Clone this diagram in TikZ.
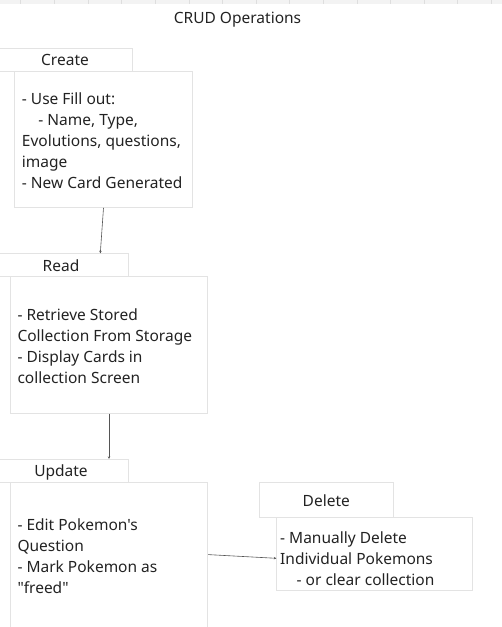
\documentclass[tikz,border=0pt]{standalone}
\usepackage{fontspec}
\setmainfont{Noto Sans}[Ligatures=TeXOff]
\usetikzlibrary{arrows.meta}
\definecolor{boxline}{HTML}{E3E3E3}
\definecolor{txt}{HTML}{222222}
\definecolor{conn}{HTML}{555555}
\definecolor{strip}{HTML}{F3F3F3}
\definecolor{tick}{HTML}{DEDEDE}
\tikzset{
  hdr/.style={draw=boxline, line width=0.8pt, inner sep=0pt, text=txt,
    font=\fontsize{15.5}{21}\selectfont, text height=12pt, text depth=0pt},
  bodybox/.style={draw=boxline, line width=0.8pt, inner sep=0pt},
  bodytext/.style={anchor=base west, inner sep=0pt, align=left, text=txt,
    font=\fontsize{15.5}{21}\selectfont},
  conline/.style={draw=conn, line width=0.6pt, -{Stealth[length=2.5pt,width=2.5pt]}}
}
\begin{document}
\begin{tikzpicture}[x=1pt,y=-1pt]
\useasboundingbox (0,0) rectangle (502,627);
\clip (0,0) rectangle (502,627);
% top strip
\fill[strip] (0,0) rectangle (502,3.5);
\foreach \tx in {20.7,54.3,88,121.7,155.3,189,222.7,256.3,289.7,323.3,357,390.7,424,457.7,491.3}
  \draw[tick, line width=0.8pt] (\tx,0) -- (\tx,3.5);
% title
\node[anchor=base, inner sep=0pt, text=txt, font=\fontsize{15.5}{21}\selectfont] (title) at (237.5,23) {CRUD Operations};
% Create
\node[hdr, minimum width=135.7pt, minimum height=23.7pt] (createhdr) at (65,59.85) {Create};
\node[bodybox, minimum width=178pt, minimum height=136.5pt] (createbody) at (103.5,139.25) {};
\node[bodytext] (createtext) at (21.7,188) {- Use Fill out:\\\hspace*{16.5pt}- Name, Type,\\Evolutions, questions,\\image\\- New Card Generated};
% Read
\node[hdr, minimum width=134pt, minimum height=23pt] (readhdr) at (61,265.2) {Read};
\node[bodybox, minimum width=197.4pt, minimum height=136.6pt] (readbody) at (109,345) {};
\node[bodytext] (readtext) at (17.3,383.3) {- Retrieve Stored\\Collection From Storage\\- Display Cards in\\collection Screen};
% Update
\node[hdr, minimum width=134pt, minimum height=23pt] (updatehdr) at (61,470.8) {Update};
\node[bodybox, minimum width=197.4pt, minimum height=170pt] (updatebody) at (109,567.3) {};
\node[bodytext] (updatetext) at (17.3,593.7) {- Edit Pokemon's\\Question\\- Mark Pokemon as\\"freed"};
% Delete
\node[hdr, minimum width=134pt, minimum height=35.4pt] (deletehdr) at (326.3,500) {Delete};
\node[bodybox, minimum width=196pt, minimum height=72.3pt] (deletebody) at (374.7,553.85) {};
\node[bodytext] (deletetext) at (280,585.3) {- Manually Delete\\Individual Pokemons\\\hspace*{16.5pt}- or clear collection};
% connectors
\draw[conline] (createbody.south) -- ([xshift=39.3pt]readhdr.north);
\draw[conline] (readbody.south) -- (updatehdr.north -| readbody.south);
\draw[conline] ([yshift=-72.7pt]updatebody.north east) -- ([yshift=-41pt]deletebody.north west);
\end{tikzpicture}
\end{document}
